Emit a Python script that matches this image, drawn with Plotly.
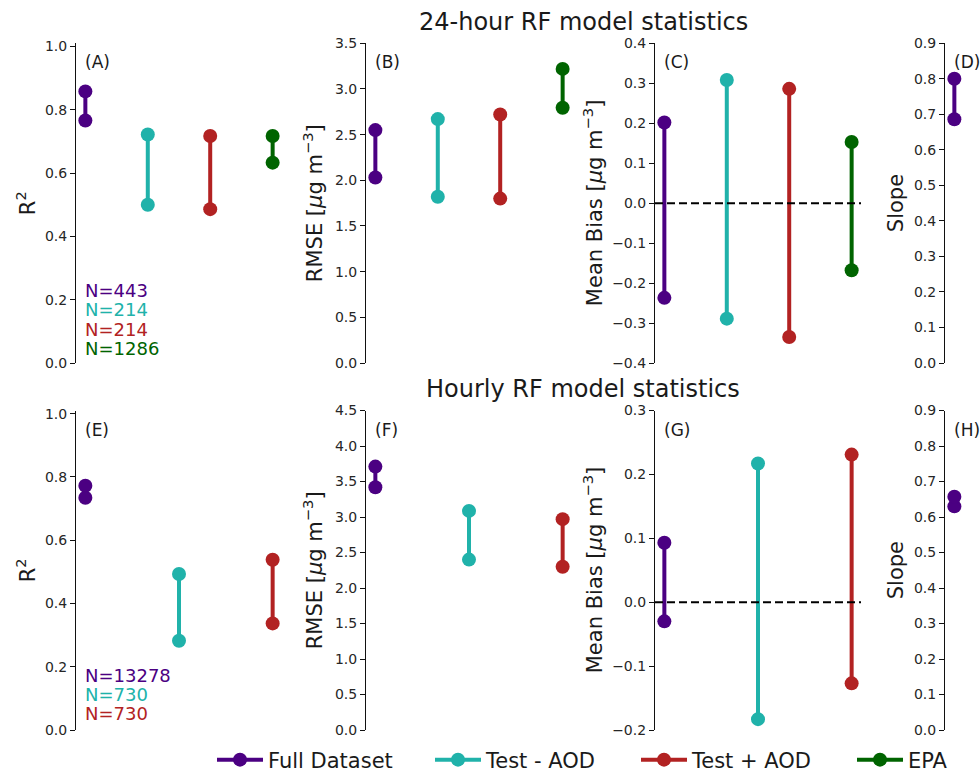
import plotly.graph_objects as go

# ---------------- data ----------------
categories = ["Full Dataset", "Test - AOD", "Test + AOD", "EPA"]
colors = ["#4B0082", "#20B2AA", "#B22222", "#006400"]

# 24-hour model (low / high end of each range)
r2_24_low = [0.766, 0.500, 0.486, 0.633]
r2_24_high = [0.858, 0.722, 0.717, 0.717]
rmse_24_low = [2.03, 1.82, 1.80, 2.795]
rmse_24_high = [2.55, 2.67, 2.72, 3.22]
mb_24_low = [-0.237, -0.289, -0.335, -0.168]
mb_24_high = [0.202, 0.308, 0.286, 0.153]
slope_24_low = [0.686]
slope_24_high = [0.800]
n_24 = ["N=443", "N=214", "N=214", "N=1286"]

# hourly model
r2_h_low = [0.734, 0.282, 0.337]
r2_h_high = [0.772, 0.493, 0.538]
rmse_h_low = [3.42, 2.40, 2.30]
rmse_h_high = [3.71, 3.086, 2.97]
mb_h_low = [-0.030, -0.183, -0.127]
mb_h_high = [0.093, 0.217, 0.231]
slope_h_low = [0.630]
slope_h_high = [0.657]
n_h = ["N=13278", "N=730", "N=730"]

titles = ["24-hour RF model statistics", "Hourly RF model statistics"]
letters = ["(A)", "(B)", "(C)", "(D)", "(E)", "(F)", "(G)", "(H)"]
ylabels = ["R<sup>2</sup>", "RMSE [<i>μ</i>g m<sup>−3</sup>]",
           "Mean Bias [<i>μ</i>g m<sup>−3</sup>]", "Slope"]

# ---------------- layout helpers ----------------
W, H = 980, 773
FONT = "DejaVu Sans"
TXT = "#1a1a1a"


def fx(px):
    return px / W


def fy(py):
    return 1 - py / H


row_px = [(43.3, 363.0), (410.5, 730.0)]
col_left = [76, 366, 655, 945]
panel_w = 206

panels = [
    # row, col, low, high, yrange, dtick
    (0, 0, r2_24_low, r2_24_high, [0, 1.01], 0.2),
    (0, 1, rmse_24_low, rmse_24_high, [0, 3.5], 0.5),
    (0, 2, mb_24_low, mb_24_high, [-0.4, 0.4], 0.1),
    (0, 3, slope_24_low, slope_24_high, [0, 0.9], 0.1),
    (1, 0, r2_h_low, r2_h_high, [0, 1.01], 0.2),
    (1, 1, rmse_h_low, rmse_h_high, [0, 4.5], 0.5),
    (1, 2, mb_h_low, mb_h_high, [-0.2, 0.3], 0.1),
    (1, 3, slope_h_low, slope_h_high, [0, 0.9], 0.1),
]
ngroups = [4, 3]
margins = [0.15, 0.1]

fig = go.Figure()
layout = dict(
    width=W, height=H,
    margin=dict(l=0, r=0, t=0, b=0, autoexpand=False),
    paper_bgcolor="white", plot_bgcolor="white",
    font=dict(family=FONT, color=TXT),
    annotations=[], shapes=[],
)

legend_names = ["legend", "legend2", "legend3", "legend4"]

for k, (row, col, lo, hi, yr, dt) in enumerate(panels):
    ax = k + 1
    xa = "x" if ax == 1 else f"x{ax}"
    ya = "y" if ax == 1 else f"y{ax}"
    n = ngroups[row]
    m = margins[row]
    xr = [-m, n - 1 + m]
    ppu = panel_w / (xr[1] - xr[0])
    left = col_left[col]
    if col == 3:
        right = W
        xr = [-m, -m + (right - left) / ppu]
    else:
        right = left + panel_w
    y_top, y_bot = row_px[row]

    layout[f"xaxis{'' if ax == 1 else ax}"] = dict(
        domain=[fx(left), fx(right)], range=xr, visible=False,
        anchor=ya, fixedrange=True)
    ticks = []
    v = yr[0]
    while v <= yr[1] + 1e-9:
        ticks.append(round(v, 3))
        v += dt
    layout[f"yaxis{'' if ax == 1 else ax}"] = dict(
        domain=[fy(y_bot), fy(y_top)], range=yr, anchor=xa,
        showline=True, linecolor="#111", linewidth=1.1,
        ticks="outside", ticklen=5, tickwidth=1, tickcolor="#111",
        tickvals=ticks, tickformat=".1f",
        tickfont=dict(size=14, color="#262626", family=FONT),
        showgrid=False, zeroline=False)

    for i in range(len(lo)):
        fig.add_trace(go.Scatter(
            x=[i, i], y=[lo[i], hi[i]], mode="lines+markers",
            line=dict(color=colors[i], width=4),
            marker=dict(color=colors[i], size=14),
            name=categories[i], xaxis=xa, yaxis=ya,
            showlegend=(k == 0), legend=legend_names[i],
            hoverinfo="skip"))

    # panel letter
    layout["annotations"].append(dict(
        text=letters[k], xref="paper", yref="paper",
        x=fx(left + 7), y=fy(y_top + 19), xanchor="left", yanchor="middle",
        showarrow=False, font=dict(size=17, color=TXT)))

    # y label
    lab_x = {0: 26, 1: 313, 2: 593, 3: 896}[col]
    layout["annotations"].append(dict(
        text=ylabels[col], xref="paper", yref="paper", textangle=-90,
        x=fx(lab_x), y=fy((y_top + y_bot) / 2), xanchor="center",
        yanchor="middle", showarrow=False, font=dict(size=21, color=TXT)))

    # zero dashed line for mean bias
    if col == 2:
        layout["shapes"].append(dict(
            type="line", xref=f"{xa} domain", yref=ya, x0=0, x1=1, y0=0, y1=0,
            line=dict(color="black", width=2, dash="8px,4px"), layer="above"))

# N labels
n_centers = [[290.5, 309.5, 329, 348], [675, 694, 713.5]]
for row, labs in enumerate([n_24, n_h]):
    for i, t in enumerate(labs):
        layout["annotations"].append(dict(
            text=t, xref="paper", yref="paper", x=fx(83), y=fy(n_centers[row][i]),
            xanchor="left", yanchor="middle", showarrow=False,
            font=dict(size=18, color=colors[i])))

# titles
for row, (t, yc) in enumerate(zip(titles, [22, 388.5])):
    layout["annotations"].append(dict(
        text=t, xref="paper", yref="paper", x=fx(583), y=fy(yc),
        xanchor="center", yanchor="middle", showarrow=False,
        font=dict(size=24, color=TXT)))

# legends
leg_x = [217, 435, 641, 857]
for i, ln in enumerate(legend_names):
    layout[ln] = dict(
        x=fx(leg_x[i] - 5), y=fy(760), xanchor="left", yanchor="middle",
        orientation="h", bgcolor="rgba(0,0,0,0)", borderwidth=0,
        itemwidth=46, font=dict(size=21, color=TXT, family=FONT))

fig.update_layout(**layout)
fig.write_html("out.html")
